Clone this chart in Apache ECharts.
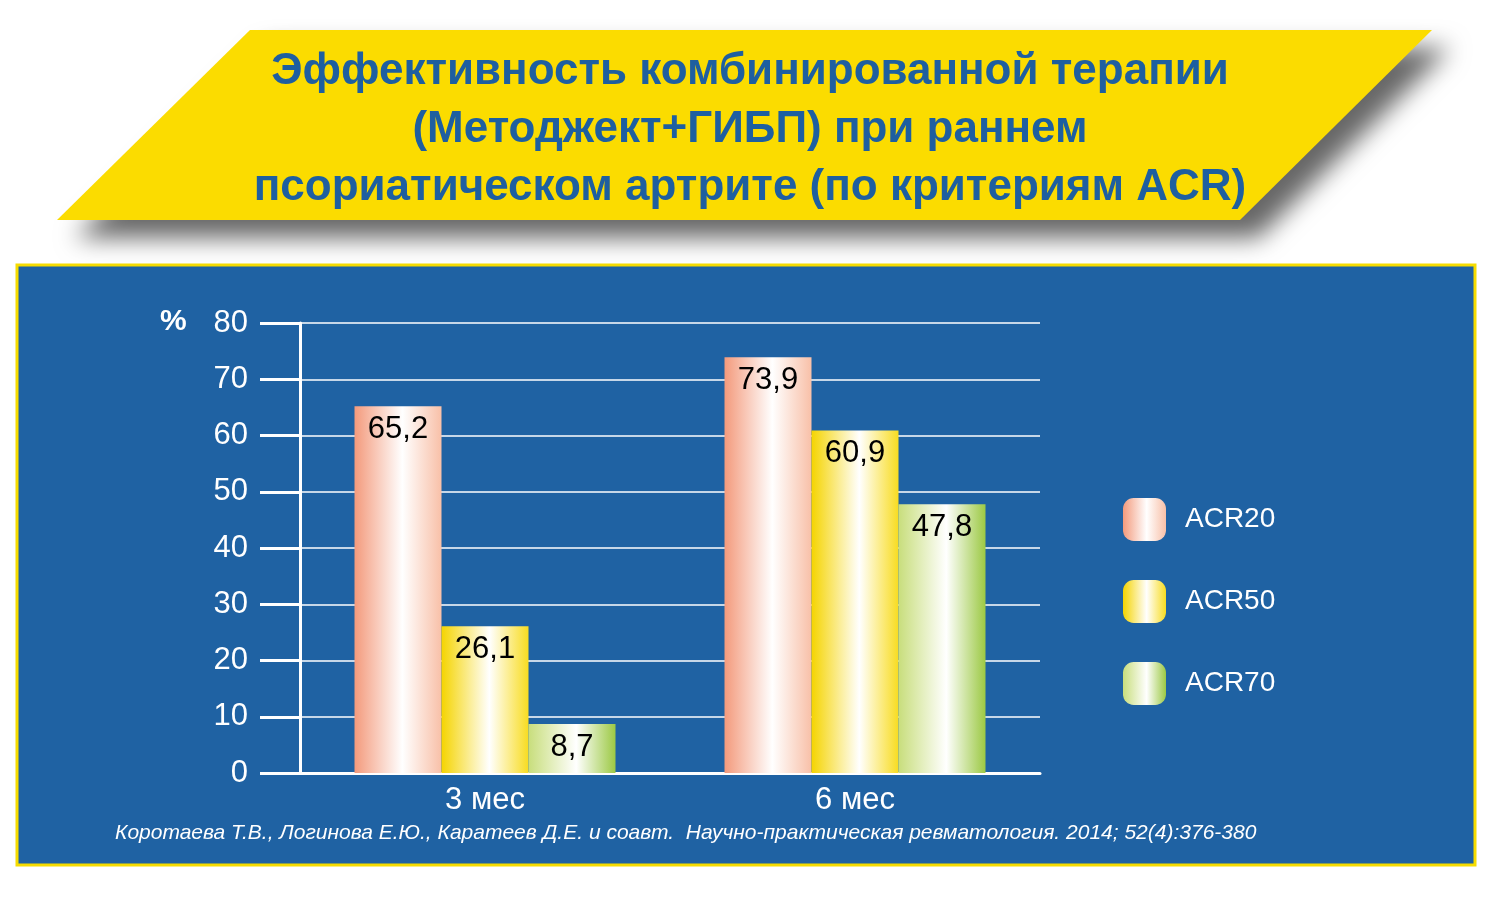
<!DOCTYPE html>
<html><head><meta charset="utf-8">
<script src="https://cdn.jsdelivr.net/npm/echarts@6/dist/echarts.min.js"></script>
<style>html,body{margin:0;padding:0;background:#fff}#chart{width:1500px;height:907px}</style>
</head><body><div id="chart"></div>
<script>
// data
const categories = ['3 мес', '6 мес'];
const acr20 = [65.2, 73.9];
const acr50 = [26.1, 60.9];
const acr70 = [8.7, 47.8];
const seriesNames = ['ACR20', 'ACR50', 'ACR70'];
const yTicks = [0, 10, 20, 30, 40, 50, 60, 70, 80];

function grad(edge, mid, right) {
  return new echarts.graphic.LinearGradient(0, 0, 1, 0, [
    {offset: 0, color: edge}, {offset: 0.55, color: mid}, {offset: 1, color: right}
  ]);
}
const colors = [
  grad('#f39a7c', '#ffffff', '#f8c0a8'),
  grad('#f5d400', '#ffffff', '#f8dc20'),
  grad('#c8de7c', '#ffffff', '#9cc944')
];

const myChart = echarts.init(document.getElementById('chart'));
const label = {show: true, position: 'insideTop', color: '#000', fontSize: 31, fontFamily: 'Liberation Sans', distance: 8,
  formatter: p => String(p.value).replace('.', ',')};

myChart.setOption({
  animation: false,
  graphic: [
    {type: 'polygon', shape: {points: [[250, 30], [1432, 30], [1240, 220], [57, 220]]},
      style: {fill: '#fbdc00', shadowBlur: 25, shadowColor: 'rgba(0,0,0,0.6)', shadowOffsetX: 18, shadowOffsetY: 18}},
    {type: 'text', left: 'center', top: 43, x: 30,
      style: {text: 'Эффективность комбинированной терапии\n(Методжект+ГИБП) при раннем\nпсориатическом артрите (по критериям ACR)',
        fill: '#1e5fa0', font: 'bold 44px Liberation Sans', textAlign: 'center', lineHeight: 58}},
    {type: 'rect', shape: {x: 17, y: 265, width: 1458, height: 600},
      style: {fill: '#1f62a3', stroke: '#f6dc00', lineWidth: 3}, z: -1},
    {type: 'text', x: 160, y: 307, style: {text: '%', fill: '#fff', font: 'bold 30px Liberation Sans'}},
    {type: 'text', x: 115, y: 823, style: {text: 'Коротаева Т.В., Логинова Е.Ю., Каратеев Д.Е. и соавт.  Научно-практическая ревматология. 2014; 52(4):376-380',
      fill: '#fff', font: 'italic 21px Liberation Sans'}}
  ],
  legend: {
    orient: 'vertical', left: 1118, top: 493, itemWidth: 43, itemHeight: 43, itemGap: 39,
    textStyle: {color: '#fff', fontSize: 28, fontFamily: 'Liberation Sans', padding: [0, 0, 0, 14]},
    data: seriesNames
  },
  grid: {left: 300, right: 460, top: 323, bottom: 134},
  xAxis: {
    type: 'category', data: categories,
    axisLine: {lineStyle: {color: '#fff', width: 3}}, axisTick: {show: false},
    axisLabel: {color: '#fff', fontSize: 31, fontFamily: 'Liberation Sans', margin: 12}
  },
  yAxis: {
    type: 'value', min: 0, max: 80, interval: 10,
    axisLine: {show: true, lineStyle: {color: '#fff', width: 3}},
    axisTick: {show: true, length: 40, lineStyle: {color: '#fff', width: 3}},
    axisLabel: {color: '#fff', fontSize: 31, fontFamily: 'Liberation Sans', margin: 52,
      formatter: v => yTicks.includes(v) ? String(v) : ''},
    splitLine: {lineStyle: {color: '#fff', width: 1.5}}
  },
  series: [acr20, acr50, acr70].map((d, i) => ({
    name: seriesNames[i], type: 'bar', data: d, barWidth: 87, barGap: '0%',
    itemStyle: {color: colors[i]}, label: label
  }))
});
</script></body></html>
